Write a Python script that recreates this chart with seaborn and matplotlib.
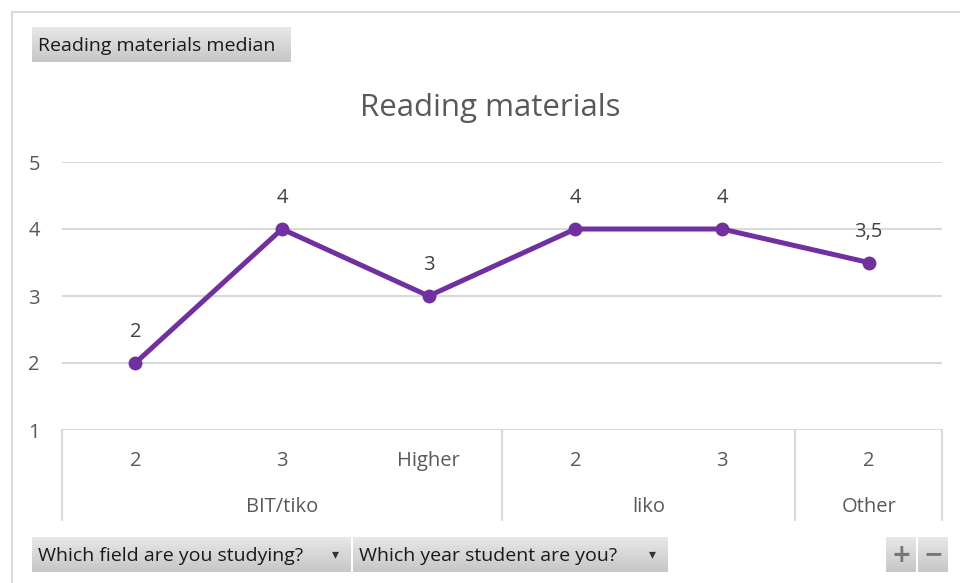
import numpy as np
import pandas as pd
import matplotlib
matplotlib.use('Agg')
import matplotlib.pyplot as plt
import seaborn as sns
from matplotlib.colors import LinearSegmentedColormap

# donnees
fields = ['BIT/tiko', 'BIT/tiko', 'BIT/tiko', 'liko', 'liko', 'Other']
years = ['2', '3', 'Higher', '2', '3', '2']
medians = [2, 4, 3, 4, 4, 3.5]
group_names = ['BIT/tiko', 'liko', 'Other']
y_ticks = [1, 2, 3, 4, 5]

W, H = 960, 583
PURPLE = '#7030A0'
GRID = '#D9D9D9'
TXT = '#595959'
FONT = ['Open Sans', 'DejaVu Sans']

sns.set_style('white')
plt.rcParams['font.family'] = FONT

df = pd.DataFrame({'field': fields, 'year': years, 'median': medians})
df['key'] = df['field'] + '|' + df['year']

fig = plt.figure(figsize=(W / 100, H / 100), dpi=100)

# cadre exterieur
fig.add_artist(plt.Line2D([12 / W, 1], [1 - 12 / H, 1 - 12 / H], color=GRID, lw=1.5))
fig.add_artist(plt.Line2D([12 / W, 12 / W], [0, 1 - 12 / H], color=GRID, lw=1.5))

ax = fig.add_axes([62 / W, 1 - 430 / H, 880 / W, 268 / H])
sns.lineplot(data=df, x='key', y='median', sort=False, color=PURPLE, lw=3.6,
             marker='o', markersize=10, markeredgewidth=0, ax=ax)
ax.set_xlim(-0.5, len(df) - 0.5)
ax.set_ylim(1, 5)
ax.set_yticks(y_ticks)
ax.set_yticklabels([str(t) for t in y_ticks])
ax.tick_params(axis='y', length=0, labelsize=14.5, labelcolor=TXT, pad=16)
ax.set_xticks([])
ax.set_xlabel('')
ax.set_ylabel('')
for s in ax.spines.values():
    s.set_visible(False)
for t in y_ticks:
    ax.axhline(t, color=GRID, lw=1.5, zorder=0)

# etiquettes de donnees
for i, v in enumerate(df['median']):
    lab = f'{v:g}'.replace('.', ',')
    ax.annotate(lab, (i, v), xytext=(0, 15), textcoords='offset points',
                ha='center', va='bottom', fontsize=14.5, color='#404040')

# tableau des categories sous l'axe
tr = ax.get_xaxis_transform()
for i, y in enumerate(df['year']):
    ax.text(i, -0.116, y, transform=tr, ha='center', va='center',
            fontsize=14.5, color=TXT)
bounds = [-0.5]
pos = 0
for g in group_names:
    n = (df['field'] == g).sum()
    ax.text(pos + (n - 1) / 2, -0.287, g, transform=tr, ha='center', va='center',
            fontsize=14.5, color=TXT)
    pos += n
    bounds.append(pos - 0.5)
for b in bounds:
    ax.plot([b, b], [0, -0.336], transform=tr, color=GRID, lw=1.5, clip_on=False)

# titre
fig.text(490 / W, 1 - 108 / H, 'Reading materials', ha='center', va='center',
         fontsize=22.5, color=TXT)

# boutons style tableau croise
cmap = LinearSegmentedColormap.from_list('btn', ['#E8E8E8', '#C6C6C6'])


def button(x0, y0, x1, y1, text, arrow=False, ha='left', color='#1A1A1A'):
    bax = fig.add_axes([x0 / W, 1 - y1 / H, (x1 - x0) / W, (y1 - y0) / H])
    bax.imshow(np.linspace(0, 1, 60).reshape(-1, 1), aspect='auto', cmap=cmap,
               extent=[0, 1, 0, 1])
    bax.set_xlim(0, 1)
    bax.set_ylim(0, 1)
    bax.axis('off')
    if ha == 'left':
        bax.text(6 / (x1 - x0), 0.47, text, ha='left', va='center',
                 fontsize=14, color=color)
    else:
        bax.text(0.5, 0.5, text, ha='center', va='center',
                 fontsize=17, color=color, fontweight='bold',
                 family='DejaVu Sans')
    if arrow:
        bax.text(1 - 16 / (x1 - x0), 0.5, '\u25BE', ha='center', va='center',
                 fontsize=10, color='#333333', family='DejaVu Sans')


button(32, 27, 291, 62, 'Reading materials median')
button(32, 537, 351, 572, 'Which field are you studying?', arrow=True)
button(353, 537, 668, 572, 'Which year student are you?', arrow=True)
button(886, 537, 916, 572, '+', ha='center', color='#767676')
button(918, 537, 948, 572, '\u2212', ha='center', color='#767676')

fig.savefig('out.png', dpi=100)
